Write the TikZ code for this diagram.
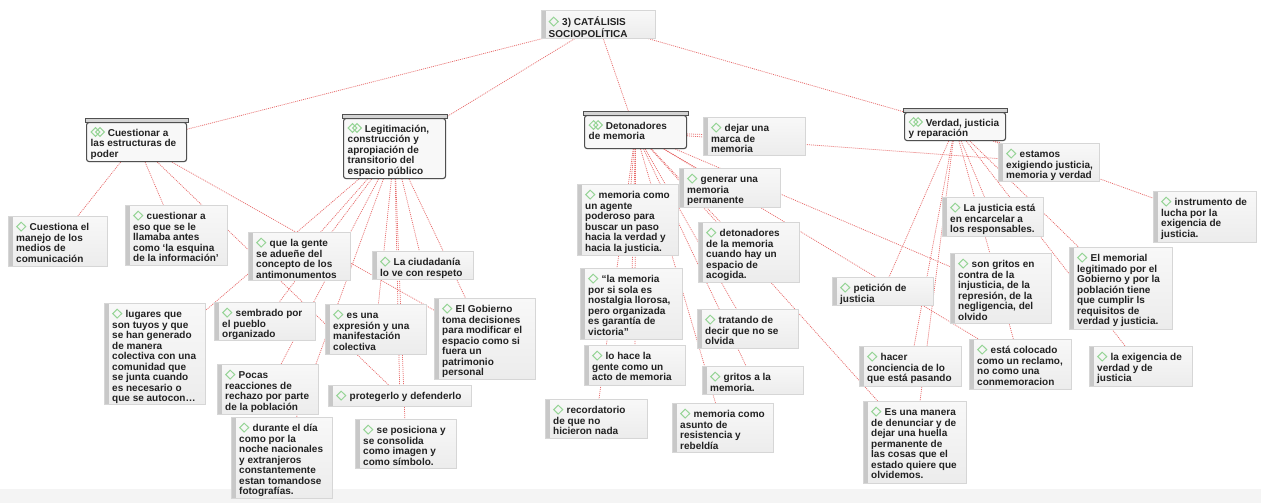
\documentclass[tikz,border=0pt]{standalone}
\usepackage{fontspec}
\setmainfont{Liberation Sans}
\usetikzlibrary{shadows}
\pgfdeclarelayer{bg}
\pgfdeclarelayer{edges}
\pgfsetlayers{bg,edges,main}

\definecolor{edgecol}{RGB}{232,110,110}
\definecolor{dmdcol}{RGB}{150,212,150}
\definecolor{leaftop}{RGB}{248,248,248}
\definecolor{leafbot}{RGB}{236,236,236}
\definecolor{leafline}{RGB}{214,214,214}
\definecolor{barcol}{RGB}{200,200,200}
\definecolor{txtcol}{RGB}{34,34,34}
\definecolor{catline}{RGB}{80,80,80}
\definecolor{catfill}{RGB}{248,248,248}
\definecolor{lidfill}{RGB}{212,212,212}
\definecolor{bandcol}{RGB}{244,244,244}

\newcommand\dmd{\tikz[baseline=0pt]\draw[dmdcol,line width=1pt] (0.5pt,4.2pt)--(5pt,8.6pt)--(9.5pt,4.2pt)--(5pt,-0.2pt)--cycle;\hspace{3.5pt}}
\newcommand\ddmd{\tikz[baseline=0pt]{\draw[dmdcol,line width=1pt] (0.5pt,4.2pt)--(4.8pt,8.5pt)--(9.1pt,4.2pt)--(4.8pt,-0.1pt)--cycle;
  \draw[dmdcol,line width=1pt] (5pt,4.2pt)--(9.3pt,8.5pt)--(13.6pt,4.2pt)--(9.3pt,-0.1pt)--cycle;}\hspace{3pt}}

\tikzset{
  edge/.style={draw=edgecol, line width=0.75pt, dash pattern=on 1pt off 1pt},
  leafbox/.style={draw=leafline, line width=0.6pt, top color=leaftop, bottom color=leafbot,
    drop shadow={shadow xshift=0.6pt, shadow yshift=-0.8pt, opacity=0.13},
    path picture={\fill[barcol] (path picture bounding box.north west) rectangle ([xshift=5pt]path picture bounding box.south west);},
    inner sep=0pt, anchor=north west},
  catbox/.style={draw=catline, line width=1.1pt, fill=catfill, rounded corners=2.5pt,
    drop shadow={shadow xshift=0.6pt, shadow yshift=-0.8pt, opacity=0.13},
    inner sep=0pt, anchor=north west},
  lid/.style={draw=catline, line width=0.7pt, fill=lidfill},
  txt/.style={anchor=north west, inner sep=0pt, align=left, text=txtcol,
    font=\fontsize{10}{10.5}\selectfont\bfseries},
  roottxt/.style={txt, font=\fontsize{10}{8.8}\selectfont\bfseries},
}

% \leaf{name}{x}{y}{w}{h}{text}
\newcommand\leaf[6]{%
  \node[leafbox, minimum width=#4pt, minimum height=#5pt] (#1) at (#2,#3) {};
  \node[txt] (#1t) at ([xshift=8pt,yshift=-5.5pt]#1.north west) {\rule{0pt}{8pt}\dmd#6};
}
% \cat{name}{x}{y}{w}{h}{text}
\newcommand\cat[6]{%
  \node[catbox, minimum width=#4pt, minimum height=#5pt] (#1) at (#2,#3) {};
  \draw[lid] ([xshift=-1pt]#1.north west) rectangle ([xshift=1pt,yshift=3.5pt]#1.north east);
  \node[txt] (#1t) at ([xshift=4.5pt,yshift=-5pt]#1.north west) {\rule{0pt}{8pt}\ddmd#6};
}

\begin{document}
\begin{tikzpicture}[x=1pt,y=-1pt]
\useasboundingbox (0,0) rectangle (1261,503);
\begin{pgfonlayer}{bg}
  \fill[white] (0,0) rectangle (1261,503);
  \fill[bandcol] (0,489) rectangle (1261,503);
\end{pgfonlayer}

% root
\node[leafbox, minimum width=114pt, minimum height=28pt] (root) at (541,10) {};
\node[roottxt] (roott) at ([xshift=7.5pt,yshift=-6.5pt]root.north west) {\rule{0pt}{8pt}\dmd3) CATÁLISIS\\SOCIOPOLÍTICA};

% categories
\cat{c1}{86}{122}{100}{39}{Cuestionar a\\las estructuras de\\poder}
\cat{c2}{343}{118}{102}{60}{Legitimación,\\construcción y\\apropiación de\\transitorio del\\espacio público}
\cat{c3}{584}{115}{102}{33}{Detonadores\\de memoria}
\cat{c4}{904}{112}{101}{28}{Verdad, justicia\\y reparación}

% group 1 and 2
\leaf{l1}{8}{216}{99}{50}{Cuestiona el\\manejo de los\\medios de\\comunicación}
\leaf{l2}{125}{205}{102}{60}{cuestionar a\\eso que se le\\llamaba antes\\como ‘la esquina\\de la información’}
\leaf{l3}{248}{232}{102}{48}{que la gente\\se adueñe del\\concepto de los\\antimonumentos}
\leaf{l4}{372}{251}{101}{28}{La ciudadanía\\lo ve con respeto}
\leaf{l5}{434}{298}{101}{81}{El Gobierno\\toma decisiones\\para modificar el\\espacio como si\\fuera un\\patrimonio\\personal}
\leaf{l6}{104}{303}{101}{101}{lugares que\\son tuyos y que\\se han generado\\de manera\\colectiva con una\\comunidad que\\se junta cuando\\es necesario o\\que se autocon…}
\leaf{l7}{214}{302}{101}{38}{sembrado por\\el pueblo\\organizado}
\leaf{l8}{325}{304}{101}{50}{es una\\expresión y una\\manifestación\\colectiva}
\leaf{l9}{217}{364}{101}{50}{Pocas\\reacciones de\\rechazo por parte\\de la población}
\leaf{l10}{328}{385}{143}{21}{protegerlo y defenderlo}
\leaf{l11}{231}{417}{101}{81}{durante el día\\como por la\\noche nacionales\\y extranjeros\\constantemente\\estan tomandose\\fotografías.}
\leaf{l12}{355}{419}{101}{49}{se posiciona y\\se consolida\\como imagen y\\como símbolo.}

% group 3
\leaf{d1}{703}{117}{102}{38}{dejar una\\marca de\\memoria}
\leaf{d2}{679}{168}{101}{39}{generar una\\memoria\\permanente}
\leaf{d3}{577}{184}{101}{71}{memoria como\\un agente\\poderoso para\\buscar un paso\\hacia la verdad y\\hacia la justicia.}
\leaf{d4}{698}{222}{101}{60}{detonadores\\de la memoria\\cuando hay un\\espacio de\\acogida.}
\leaf{d5}{580}{268}{102}{71}{“la memoria\\por si sola es\\nostalgia llorosa,\\pero organizada\\es garantía de\\victoria”}
\leaf{d6}{697}{309}{101}{39}{tratando de\\decir que no se\\olvida}
\leaf{d7}{584}{345}{101}{40}{lo hace la\\gente como un\\acto de memoria}
\leaf{d8}{702}{366}{101}{28}{gritos a la\\memoria.}
\leaf{d9}{545}{399}{102}{39}{recordatorio\\de que no\\hicieron nada}
\leaf{d10}{672}{403}{101}{49}{memoria como\\asunto de\\resistencia y\\rebeldía}

% group 4
\leaf{v1}{998}{143}{101}{38}{estamos\\exigiendo justicia,\\memoria y verdad}
\leaf{v2}{1153}{191}{103}{51}{instrumento de\\lucha por la\\exigencia de\\justicia.}
\leaf{v3}{942}{197}{101}{39}{La justicia está\\en encarcelar a\\los responsables.}
\leaf{v4}{950}{253}{101}{70}{son gritos en\\contra de la\\injusticia, de la\\represión, de la\\negligencia, del\\olvido}
\leaf{v5}{1069}{247}{103}{82}{El memorial\\legitimado por el\\Gobierno y por la\\población tiene\\que cumplir ls\\requisitos de\\verdad y justicia.}
\leaf{v6}{832}{277}{101}{28}{petición de\\justicia}
\leaf{v7}{969}{339}{102}{50}{está colocado\\como un reclamo,\\no como una\\conmemoracion}
\leaf{v8}{859}{346}{102}{40}{hacer\\conciencia de lo\\que está pasando}
\leaf{v9}{1089}{346}{103}{40}{la exigencia de\\verdad y de\\justicia}
\leaf{v10}{863}{401}{103}{82}{Es una manera\\de denunciar y de\\dejar una huella\\permanente de\\las cosas que el\\estado quiere que\\olvidemos.}

\begin{pgfonlayer}{edges}
\foreach \a/\b in {root/c1, root/c2, root/c3, root/c4,
  c1/l1, c1/l2, c1/l5, c1/l10,
  c2/l3, c2/l4, c2/l5, c2/l6, c2/l7, c2/l8, c2/l9, c2/l10, c2/l11, c2/l12,
  c3/d1, c3/d2, c3/d3, c3/d4, c3/d5, c3/d6, c3/d7, c3/d8, c3/d9, c3/d10,
  c3/v1, c3/v4, c3/v7, c3/v10,
  c4/v1, c4/v2, c4/v3, c4/v5, c4/v6, c4/v7, c4/v8, c4/v9, c4/v10}
  \draw[edge] (\a) -- (\b);
\end{pgfonlayer}
\end{tikzpicture}
\end{document}
